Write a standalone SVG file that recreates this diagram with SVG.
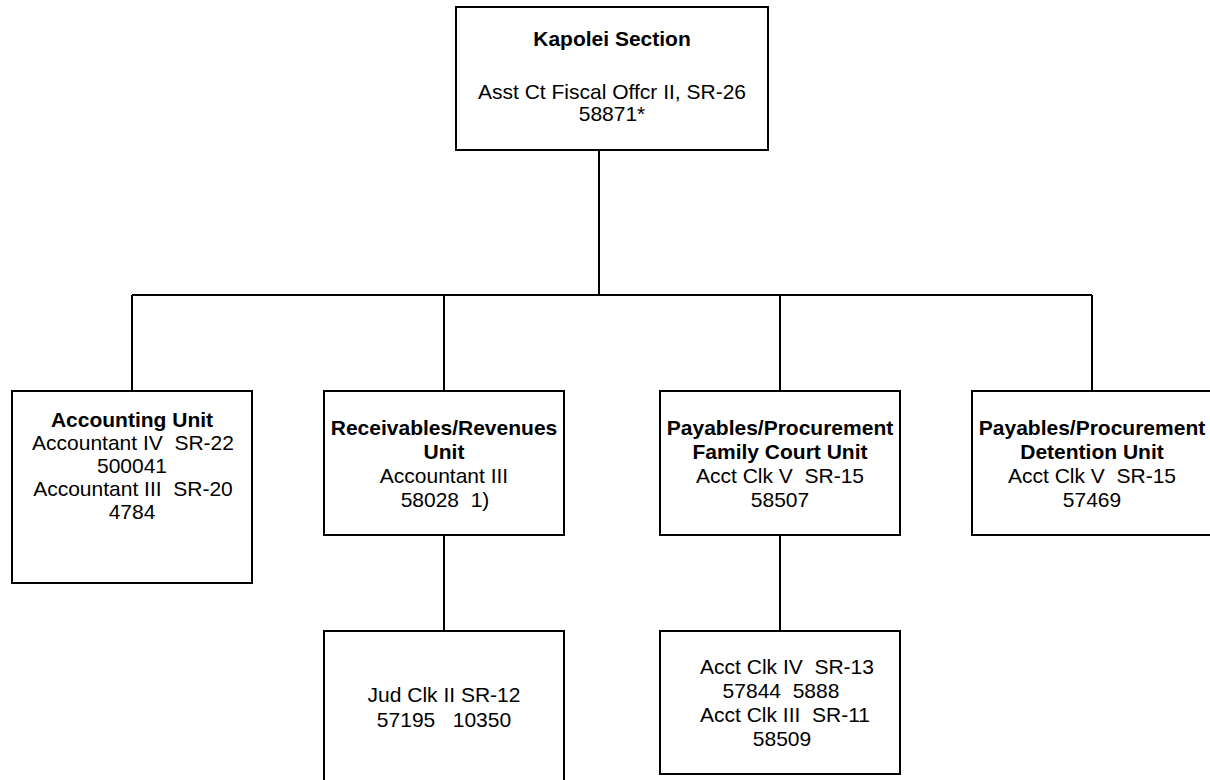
<svg xmlns="http://www.w3.org/2000/svg" width="1210" height="780" viewBox="0 0 1210 780">
<style>
.box{fill:#fff;stroke:#000;stroke-width:2}
.ln{stroke:#000;stroke-width:2;fill:none}
text{font-family:"Liberation Sans",Arial,sans-serif;font-size:21px;fill:#000;text-anchor:middle;white-space:pre}
.b{font-weight:bold}
</style>
<rect width="1210" height="780" fill="#fff"/>
<g id="connectors">
<path class="ln" d="M599,150V295M132,295H1092M132,295V391M444,295V391M780,295V391M1092,295V391M444,535V631M780,535V631"/>
</g>
<g id="kapolei">
<rect class="box" x="456" y="7" width="312" height="143"/>
<text class="b" x="612" y="46">Kapolei Section</text>
<text x="612" y="99">Asst Ct Fiscal Offcr II, SR-26</text>
<text x="612" y="121">58871*</text>
</g>
<g id="accounting">
<rect class="box" x="12" y="391" width="240" height="192"/>
<text class="b" x="132" y="427">Accounting Unit</text>
<text x="133" y="450">Accountant IV  SR-22</text>
<text x="132" y="473">500041</text>
<text x="133" y="496">Accountant III  SR-20</text>
<text x="132" y="519">4784</text>
</g>
<g id="receivables">
<rect class="box" x="324" y="391" width="240" height="144"/>
<text class="b" x="444" y="434.5">Receivables/Revenues</text>
<text class="b" x="444" y="458.5">Unit</text>
<text x="444" y="482.5">Accountant III</text>
<text x="445" y="506.5">58028  1)</text>
</g>
<g id="payables-family">
<rect class="box" x="660" y="391" width="240" height="144"/>
<text class="b" x="780" y="434.5">Payables/Procurement</text>
<text class="b" x="780" y="458.5">Family Court Unit</text>
<text x="780" y="482.5">Acct Clk V  SR-15</text>
<text x="780" y="506.5">58507</text>
</g>
<g id="payables-detention">
<rect class="box" x="972" y="391" width="240" height="144"/>
<text class="b" x="1092" y="434.5">Payables/Procurement</text>
<text class="b" x="1092" y="458.5">Detention Unit</text>
<text x="1092" y="482.5">Acct Clk V  SR-15</text>
<text x="1092" y="506.5">57469</text>
</g>
<g id="jud-clk">
<rect class="box" x="324" y="631" width="240" height="160"/>
<text x="444" y="702">Jud Clk II SR-12</text>
<text x="444" y="727">57195   10350</text>
</g>
<g id="acct-clk">
<rect class="box" x="660" y="631" width="240" height="143"/>
<text x="787" y="674">Acct Clk IV  SR-13</text>
<text x="781" y="698">57844  5888</text>
<text x="785" y="722">Acct Clk III  SR-11</text>
<text x="782" y="746">58509</text>
</g>
</svg>
